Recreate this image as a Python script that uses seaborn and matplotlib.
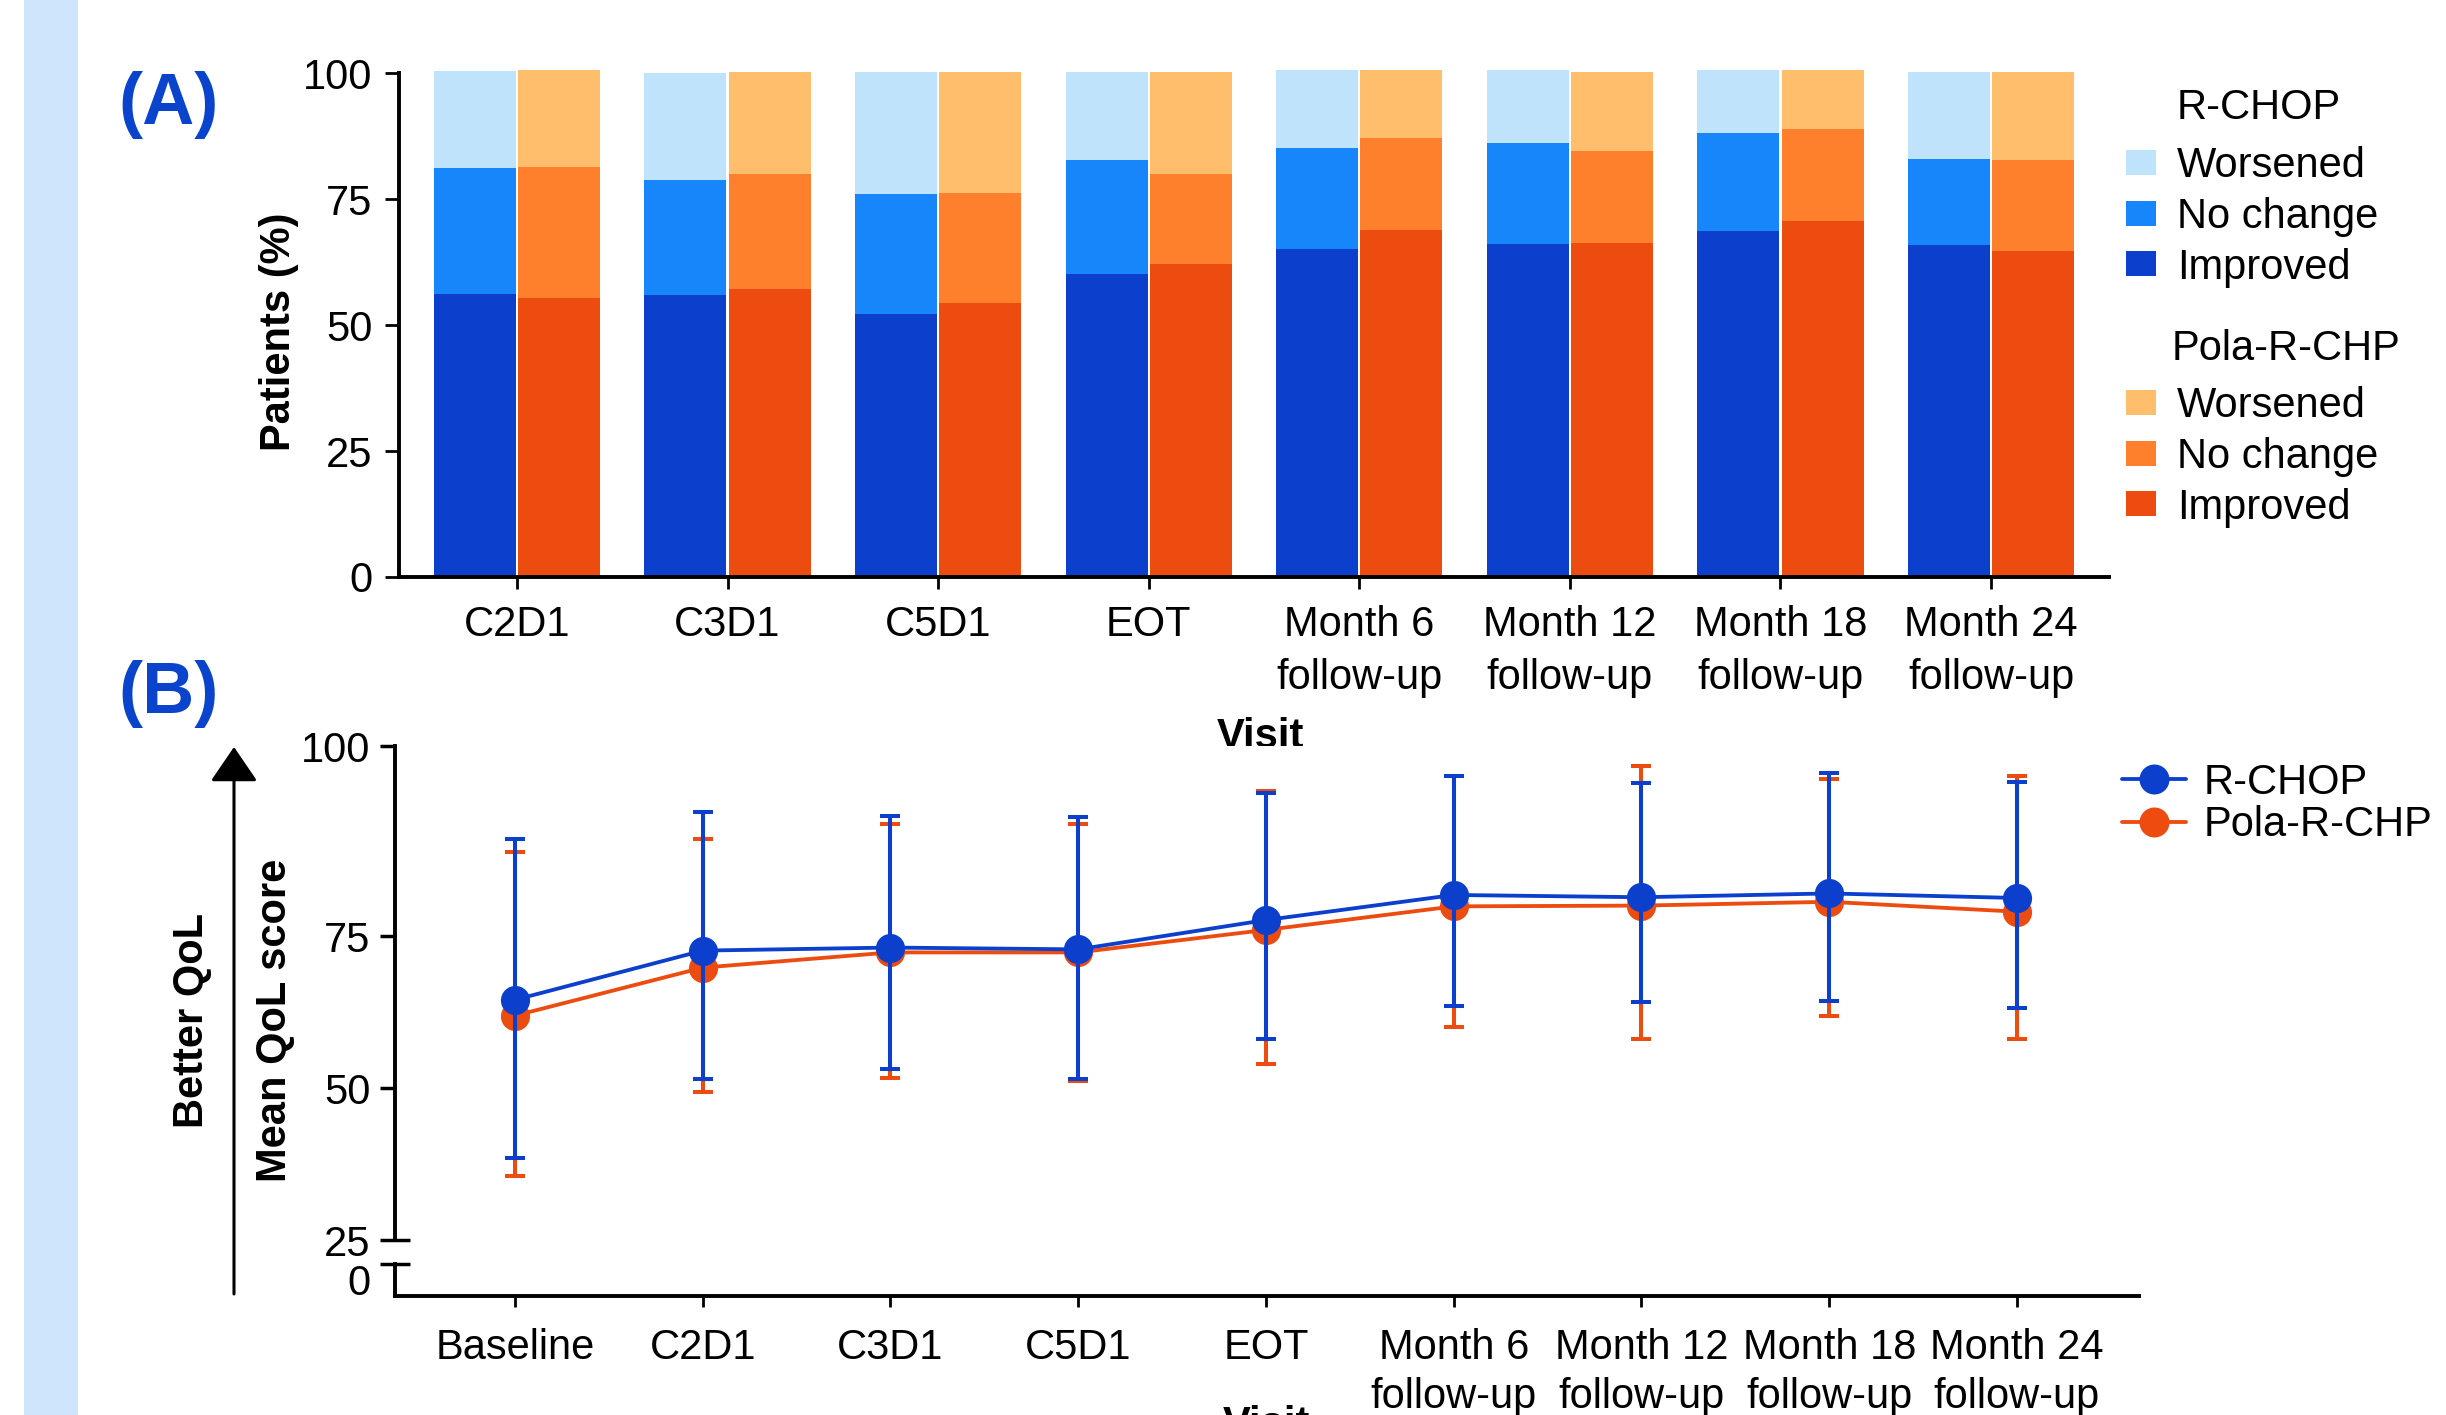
import numpy as np
import pandas as pd
import matplotlib
matplotlib.use("Agg")
import matplotlib.pyplot as plt
from matplotlib.patches import Patch, Rectangle, FancyArrowPatch
from matplotlib.lines import Line2D
import seaborn as sns

# ---------------- data ----------------
arms = ["R-CHOP", "Pola-R-CHP"]

# (A) change from baseline, % of patients
visits_a = ["C2D1", "C3D1", "C5D1", "EOT",
            "Month 6\nfollow-up", "Month 12\nfollow-up",
            "Month 18\nfollow-up", "Month 24\nfollow-up"]
rchop_improved = [56.2, 56.0, 52.2, 60.2, 65.1, 66.1, 68.7, 65.9]
rchop_nochange = [25.0, 22.8, 23.8, 22.5, 20.1, 20.0, 19.5, 17.1]
rchop_worsened = [19.2, 21.2, 24.2, 17.5, 15.4, 14.5, 12.4, 17.2]
pola_improved = [55.4, 57.2, 54.4, 62.1, 68.9, 66.3, 70.7, 64.7]
pola_nochange = [26.0, 22.8, 21.8, 17.9, 18.2, 18.2, 18.2, 18.0]
pola_worsened = [19.2, 20.2, 24.0, 20.2, 13.5, 15.7, 11.7, 17.5]

# (B) mean QoL score with lower / upper SD limits
visits_b = ["Baseline", "C2D1", "C3D1", "C5D1", "EOT",
            "Month 6\nfollow-up", "Month 12\nfollow-up",
            "Month 18\nfollow-up", "Month 24\nfollow-up"]
rchop_mean = [64.5, 72.6, 73.1, 72.8, 77.1, 80.4, 80.1, 80.6, 80.0]
rchop_upper = [87.7, 91.3, 90.8, 90.7, 93.8, 96.0, 95.1, 96.4, 95.3]
rchop_lower = [38.5, 51.4, 53.1, 51.4, 58.0, 63.5, 64.1, 64.3, 63.1]
pola_mean = [61.9, 69.8, 72.3, 72.3, 75.8, 78.9, 79.0, 79.5, 78.2]
pola_upper = [86.0, 87.7, 89.7, 89.8, 94.1, 96.1, 97.4, 95.6, 96.0]
pola_lower = [35.6, 49.3, 51.6, 51.2, 54.0, 60.0, 58.1, 61.9, 58.1]

# ---------------- colours ----------------
BLUE = "#0C40CC"
BLUE_MID = "#1686FA"
BLUE_LIGHT = "#C0E3FC"
ORANGE = "#EC4C10"
ORANGE_MID = "#FE802C"
ORANGE_LIGHT = "#FFBE6C"
PANEL_BLUE = "#0A44CC"
STRIPE = "#CFE5FB"

sns.set_theme(style="ticks")
plt.rcParams["font.family"] = ["Liberation Sans", "DejaVu Sans"]
plt.rcParams.update({
    "text.color": "black", "axes.labelcolor": "black",
    "xtick.color": "black", "ytick.color": "black",
    "axes.edgecolor": "black", "axes.linewidth": 2.8,
    "xtick.labelsize": 30, "ytick.labelsize": 30,
    "axes.labelsize": 30,
})

W, H = 2446, 1415
fig = plt.figure(figsize=(W / 100, H / 100), dpi=100)


def fx(px):
    return px / W


def fy(py):
    return 1 - py / H


fig.add_artist(Rectangle((fx(24), 0), fx(78) - fx(24), 1,
                         transform=fig.transFigure, color=STRIPE, lw=0, zorder=0))

# ================= Panel A: stacked bars =================
axA = fig.add_axes([fx(399), fy(577), fx(2109) - fx(399), (577 - 68) / H])

dfA = pd.DataFrame({
    "visit": visits_a * 2,
    "arm": [arms[0]] * len(visits_a) + [arms[1]] * len(visits_a),
    "improved": rchop_improved + pola_improved,
    "nochange": rchop_nochange + pola_nochange,
    "worsened": rchop_worsened + pola_worsened,
})
dfA["cum_nochange"] = dfA["improved"] + dfA["nochange"]
dfA["cum_worsened"] = dfA["cum_nochange"] + dfA["worsened"]

layers = [
    ("cum_worsened", {arms[0]: BLUE_LIGHT, arms[1]: ORANGE_LIGHT}),
    ("cum_nochange", {arms[0]: BLUE_MID, arms[1]: ORANGE_MID}),
    ("improved", {arms[0]: BLUE, arms[1]: ORANGE}),
]
for col, pal in layers:
    sns.barplot(data=dfA, x="visit", y=col, hue="arm", order=visits_a,
                hue_order=arms, palette=pal, saturation=1, width=0.8,
                gap=0.027, errorbar=None, legend=False, linewidth=0, ax=axA)

axA.set_xlim(-0.56, 7.56)
axA.set_ylim(0, 101)
axA.set_yticks([0, 25, 50, 75, 100])
sns.despine(ax=axA)
axA.spines["left"].set_bounds(0, 100)
axA.tick_params(axis="y", direction="out", length=10, width=2, pad=9)
axA.tick_params(axis="x", direction="out", length=8.5, width=2, pad=12)
for t in axA.get_xticklabels():
    t.set_linespacing(1.4)
axA.set_ylabel("Patients (%)", fontweight="bold", fontsize=30)
axA.yaxis.set_label_coords(-0.0585, 0.481)
axA.set_xlabel("Visit", fontweight="bold", fontsize=30)
axA.xaxis.set_label_coords(0.504, -0.275)

# legends for panel A
hand_kw = dict(frameon=False, fontsize=30, borderpad=0, borderaxespad=0,
               handlelength=0.72, handleheight=0.55, handletextpad=0.5,
               labelspacing=0.26, loc="upper left")
labels_a = ["Worsened", "No change", "Improved"]
legR = fig.legend([Patch(color=c, lw=0) for c in (BLUE_LIGHT, BLUE_MID, BLUE)],
                  labels_a, bbox_to_anchor=(fx(2126), fy(146)), **hand_kw)
legP = fig.legend([Patch(color=c, lw=0) for c in (ORANGE_LIGHT, ORANGE_MID, ORANGE)],
                  labels_a, bbox_to_anchor=(fx(2126), fy(386)), **hand_kw)
fig.text(fx(2177), fy(108), "R-CHOP", fontsize=30, ha="left", va="center")
fig.text(fx(2172), fy(349), "Pola-R-CHP", fontsize=30, ha="left", va="center")

# ================= Panel B: mean QoL over time =================
axB = fig.add_axes([fx(395), fy(1240), fx(2139) - fx(395), (1240 - 746) / H])
axL = fig.add_axes([fx(395), fy(1296), fx(2139) - fx(395), (1296 - 1264) / H],
                   sharex=axB)

pos = np.arange(len(visits_b))
dfB = pd.DataFrame({
    "pos": np.concatenate([pos, pos]),
    "arm": [arms[0]] * len(pos) + [arms[1]] * len(pos),
    "mean": rchop_mean + pola_mean,
    "lower": rchop_lower + pola_lower,
    "upper": rchop_upper + pola_upper,
})

for arm, color, z in [(arms[1], ORANGE, 2), (arms[0], BLUE, 4)]:
    sub = dfB[dfB["arm"] == arm]
    axB.errorbar(sub["pos"], sub["mean"],
                 yerr=[sub["mean"] - sub["lower"], sub["upper"] - sub["mean"]],
                 fmt="none", ecolor=color, elinewidth=2.9, capsize=7.5,
                 capthick=2.9, zorder=z)
    sns.lineplot(data=sub, x="pos", y="mean", color=color, marker="o",
                 markersize=21, markeredgewidth=0, linewidth=2.75,
                 zorder=z + 0.5, legend=False, ax=axB)


# the 75-100 segment of the score axis is drawn 1.25x taller
def _fwd(y):
    y = np.asarray(y, dtype=float)
    return np.where(y <= 75, y, 75 + (y - 75) * 1.25)


def _inv(v):
    v = np.asarray(v, dtype=float)
    return np.where(v <= 75, v, 75 + (v - 75) / 1.25)


axB.set_yscale("function", functions=(_fwd, _inv))
axB.set_ylim(25, 100)
axB.set_yticks([50, 75, 100])
axB.set_yticks([25], labels=["25"], minor=True)
axB.set_xlim(-0.639, 8.65)
axB.set_xlabel("")
axB.set_ylabel("Mean QoL score", fontweight="bold", fontsize=30)
axB.yaxis.set_label_coords(-0.0573, 0.445)
for s in ("top", "right", "bottom"):
    axB.spines[s].set_visible(False)
axB.tick_params(axis="x", which="both", bottom=False, labelbottom=False)
axB.tick_params(axis="y", which="major", direction="out", length=10.8, width=2.5, pad=7)
axB.tick_params(axis="y", which="minor", direction="inout", length=21.6, width=2.5,
                pad=7, labelsize=30)

# short bottom segment holding 0 and the visit axis
axL.set_ylim(-1, 0)
axL.set_yticks([0])
axL.set_yticks([], minor=True)
for s in ("top", "right"):
    axL.spines[s].set_visible(False)
axL.tick_params(axis="y", direction="inout", length=21.6, width=2.5, pad=7)
for t in axL.get_yticklabels():
    t.set_verticalalignment("top")
axL.set_xticks(pos, labels=visits_b)
axL.tick_params(axis="x", direction="out", length=8, width=2, pad=15)
for t in axL.get_xticklabels():
    t.set_linespacing(1.3)
axL.set_xlabel("Visit", fontweight="bold", fontsize=30)
axL.xaxis.set_label_coords(0.4994, -3.4)

# legend for panel B
fig.legend([Line2D([], [], color=BLUE, marker="o", ms=21.6, lw=2.75, mew=0),
            Line2D([], [], color=ORANGE, marker="o", ms=21.6, lw=2.75, mew=0)],
           arms, loc="upper left", bbox_to_anchor=(fx(2122), fy(763)),
           frameon=False, fontsize=30, borderpad=0, borderaxespad=0,
           handlelength=1.53, handletextpad=0.43, labelspacing=0.06)

# direction arrow and label
fig.add_artist(FancyArrowPatch((fx(234), fy(1294)), (fx(234), fy(747)),
                               transform=fig.transFigure,
                               arrowstyle="-|>,head_length=2.16,head_width=1.475",
                               mutation_scale=10, lw=2.2, color="black",
                               shrinkA=0, shrinkB=0))
fig.text(fx(192), fy(1020), "Better QoL", rotation=90, ha="center", va="center",
         fontsize=30, fontweight="bold")

# panel letters
fig.text(fx(118), fy(105), "(A)", fontsize=52, fontweight="bold",
         color=PANEL_BLUE, ha="left", va="center")
fig.text(fx(118), fy(694), "(B)", fontsize=52, fontweight="bold",
         color=PANEL_BLUE, ha="left", va="center")

fig.savefig("out.png", dpi=100)
